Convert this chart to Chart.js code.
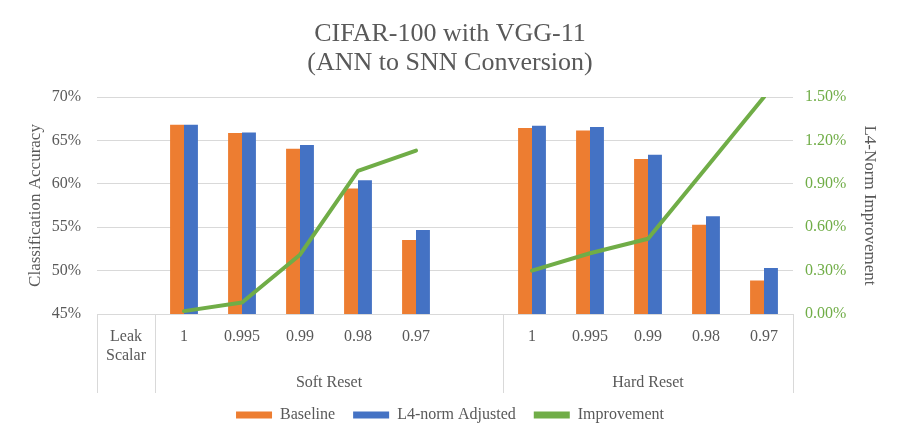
<!DOCTYPE html>
<html>
<head>
<meta charset="utf-8">
<script src="https://cdn.jsdelivr.net/npm/chart.js@4/dist/chart.umd.min.js"></script>
<style>
html,body{margin:0;padding:0;background:#fff;}
#wrap{width:900px;height:444px;}
</style>
</head>
<body>
<div id="wrap"><canvas id="c" width="900" height="444"></canvas></div>
<script>
// ---- data ----
const categories = [["Leak", "Scalar"], "1", "0.995", "0.99", "0.98", "0.97", "", "1", "0.995", "0.99", "0.98", "0.97"];
const baseline   = [null, 66.8, 65.85, 64.04, 59.46, 53.54, null, 66.42, 66.15, 62.85, 55.27, 48.85];
const l4Adjusted = [null, 66.8, 65.92, 64.46, 60.42, 54.69, null, 66.69, 66.54, 63.35, 56.27, 50.31];
const improvement = [null, 0.02, 0.08, 0.41, 0.99, 1.13, null, 0.30, 0.42, 0.52, 1.01, 1.50];
const groupLabels = ["Soft Reset", "Hard Reset"];
const groupStarts = [1, 7];
const groupEnds   = [6, 11];
const leftTicks  = [45, 50, 55, 60, 65, 70];
const rightTicks = [0, 0.3, 0.6, 0.9, 1.2, 1.5];

const FONT = "'Liberation Serif', 'Times New Roman', serif";
const GRAY = '#595959';
const GRID = '#D9D9D9';
const ORANGE = '#ED7D31', BLUE = '#4472C4', GREEN = '#70AD47';

const groupPlugin = {
  id: 'groupAxis',
  afterDraw(chart) {
    const ctx = chart.ctx;
    const x = chart.scales.x;
    const top = chart.chartArea.bottom;
    const bottom = top + 79;
    const half = (x.getPixelForValue(1) - x.getPixelForValue(0)) / 2;
    const edges = [x.getPixelForValue(0) - half];
    groupStarts.forEach(s => edges.push(x.getPixelForValue(s) - half));
    edges.push(x.getPixelForValue(groupEnds[groupEnds.length - 1]) + half);
    ctx.save();
    ctx.strokeStyle = GRID;
    ctx.lineWidth = 1;
    edges.forEach(e => {
      const px = Math.round(e) + 0.5;
      ctx.beginPath();
      ctx.moveTo(px, top);
      ctx.lineTo(px, bottom);
      ctx.stroke();
    });
    ctx.fillStyle = GRAY;
    ctx.font = "16px " + FONT;
    ctx.textAlign = 'center';
    ctx.textBaseline = 'middle';
    groupLabels.forEach((g, i) => {
      const l = x.getPixelForValue(groupStarts[i]) - half;
      const r = x.getPixelForValue(groupEnds[i]) + half;
      ctx.fillText(g, (l + r) / 2, top + 69);
    });
    ctx.restore();
  }
};

new Chart(document.getElementById('c'), {
  type: 'bar',
  data: {
    labels: categories,
    datasets: [
      { label: 'Baseline', data: baseline, backgroundColor: ORANGE, yAxisID: 'y', order: 1,
        categoryPercentage: 0.48, barPercentage: 1.0 },
      { label: 'L4-norm Adjusted', data: l4Adjusted, backgroundColor: BLUE, yAxisID: 'y', order: 1,
        categoryPercentage: 0.48, barPercentage: 1.0 },
      { label: 'Improvement', type: 'line', data: improvement, borderColor: GREEN, backgroundColor: GREEN,
        borderWidth: 4, pointRadius: 0, pointHoverRadius: 0, yAxisID: 'y1', order: 0, spanGaps: false,
        tension: 0, borderCapStyle: 'round', borderJoinStyle: 'round' }
    ]
  },
  options: {
    responsive: false,
    animation: false,
    devicePixelRatio: 1,
    layout: { padding: { left: 0, right: 0, top: 0, bottom: 11 } },
    plugins: {
      tooltip: { enabled: false },
      title: {
        display: true,
        text: ['CIFAR-100 with VGG-11', '(ANN to SNN Conversion)'],
        color: GRAY,
        font: { family: FONT, size: 26, weight: 'normal', lineHeight: 1.135 },
        padding: { top: 19, bottom: 19 }
      },
      legend: {
        position: 'bottom',
        labels: {
          color: GRAY,
          font: { family: FONT, size: 16 },
          boxWidth: 36,
          boxHeight: 7,
          padding: 18,
          sort: (a, b) => a.datasetIndex - b.datasetIndex,
          generateLabels(chart) {
            return chart.data.datasets.map((ds, i) => ({
              text: ds.label,
              fillStyle: ds.type === 'line' ? ds.borderColor : ds.backgroundColor,
              strokeStyle: ds.type === 'line' ? ds.borderColor : ds.backgroundColor,
              lineWidth: 0,
              hidden: false,
              datasetIndex: i,
              fontColor: GRAY
            }));
          }
        }
      }
    },
    scales: {
      x: {
        grid: { display: false },
        border: { display: false },
        ticks: {
          color: GRAY,
          font: { family: FONT, size: 16, lineHeight: 1.15 },
          autoSkip: false,
          maxRotation: 0,
          minRotation: 0,
          padding: 6
        },
        afterFit(s) { s.height = 75; }
      },
      y: {
        position: 'left',
        min: 45, max: 70,
        afterBuildTicks(s) { s.ticks = leftTicks.map(v => ({ value: v })); },
        ticks: {
          color: GRAY,
          font: { family: FONT, size: 16 },
          padding: 16,
          callback: v => v + '%'
        },
        grid: { color: GRID, lineWidth: 1, drawTicks: false },
        border: { display: false },
        title: {
          display: true,
          text: 'Classification Accuracy',
          color: GRAY,
          font: { family: FONT, size: 17 },
          padding: { top: 25, bottom: 0 }
        },
        afterFit(s) { s.width = 97; }
      },
      y1: {
        position: 'right',
        min: 0, max: 1.5,
        afterBuildTicks(s) { s.ticks = rightTicks.map(v => ({ value: v })); },
        ticks: {
          color: GREEN,
          font: { family: FONT, size: 16 },
          padding: 12,
          callback: v => v.toFixed(2) + '%'
        },
        grid: { display: false, drawTicks: false },
        border: { display: false },
        title: {
          display: true,
          text: 'L4-Norm Improvement',
          color: GRAY,
          font: { family: FONT, size: 17 },
          padding: { top: 20, bottom: 0 }
        },
        afterFit(s) { s.width = 107; }
      }
    }
  },
  plugins: [groupPlugin]
});
</script>
</body>
</html>
